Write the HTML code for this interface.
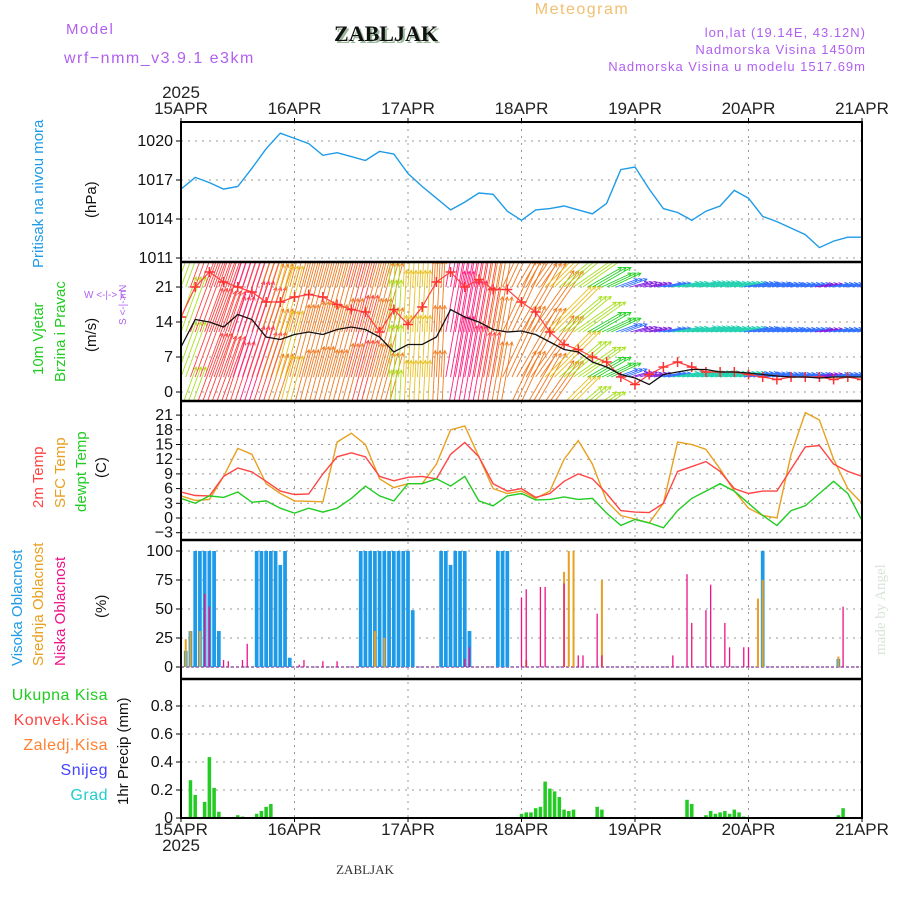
<!DOCTYPE html>
<html><head><meta charset="utf-8"><style>
html,body{margin:0;padding:0;background:#fff;}
svg{display:block;font-family:"Liberation Sans",sans-serif;}
</style></head><body>
<svg id="c" width="900" height="900" viewBox="0 0 900 900" xmlns="http://www.w3.org/2000/svg">
<g>
<text x="66" y="34" font-size="15" fill="#b060f0" letter-spacing="1.5">Model</text>
<text x="64" y="63" font-size="16" fill="#b060f0" letter-spacing="1.5">wrf−nmm_v3.9.1 e3km</text>
<text x="388" y="43" font-size="22" font-weight="bold" font-family="Liberation Serif,serif" fill="#9ab89a" text-anchor="middle">ZABLJAK</text>
<text x="386" y="41" font-size="22" font-weight="bold" font-family="Liberation Serif,serif" fill="#111" text-anchor="middle">ZABLJAK</text>
<text x="582" y="14" font-size="16" fill="#f0c070" text-anchor="middle" letter-spacing="1.5">Meteogram</text>
<text x="866" y="37" font-size="13" fill="#b060f0" text-anchor="end" letter-spacing="1">lon,lat (19.14E, 43.12N)</text>
<text x="866" y="54" font-size="13" fill="#b060f0" text-anchor="end" letter-spacing="1">Nadmorska Visina 1450m</text>
<text x="866" y="71" font-size="13" fill="#b060f0" text-anchor="end" letter-spacing="1">Nadmorska Visina u modelu 1517.69m</text>
<text x="181" y="98" font-size="17" fill="#222" text-anchor="middle">2025</text>
<text x="181" y="851" font-size="17" fill="#222" text-anchor="middle">2025</text>
<text x="365" y="874" font-size="13" font-family="Liberation Serif,serif" fill="#333" text-anchor="middle">ZABLJAK</text>
<text transform="translate(885,655) rotate(-90)" font-size="15" font-family="Liberation Serif,serif" fill="#d8e4d8">made by Angel</text>
</g>
<g>
<text transform="translate(43,268) rotate(-90)" font-size="15" fill="#1e9be8">Pritisak na nivou mora</text>
<text transform="translate(96,218) rotate(-90)" font-size="15" fill="#111">(hPa)</text>
<text transform="translate(43,375) rotate(-90)" font-size="15" fill="#22cc22">10m Vjetar</text>
<text transform="translate(65,382) rotate(-90)" font-size="15" fill="#22cc22">Brzina i Pravac</text>
<text transform="translate(96,352) rotate(-90)" font-size="15" fill="#111">(m/s)</text>
<text x="84" y="298" font-size="10" fill="#b060f0">W  &lt;-|-&gt;  E</text>
<text transform="translate(126,325) rotate(-90)" font-size="10" fill="#b060f0">S &lt;-|-&gt; N</text>
<text transform="translate(43,508) rotate(-90)" font-size="15" fill="#ff4444">2m Temp</text>
<text transform="translate(65,508) rotate(-90)" font-size="15" fill="#e8a020">SFC Temp</text>
<text transform="translate(86,512) rotate(-90)" font-size="15" fill="#22cc22">dewpt Temp</text>
<text transform="translate(106,478) rotate(-90)" font-size="15" fill="#111">(C)</text>
<text transform="translate(22,666) rotate(-90)" font-size="15" fill="#1e9be8">Visoka Oblacnost</text>
<text transform="translate(43,666) rotate(-90)" font-size="15" fill="#e8a020">Srednja Oblacnost</text>
<text transform="translate(65,666) rotate(-90)" font-size="15" fill="#ee1188">Niska Oblacnost</text>
<text transform="translate(106,618) rotate(-90)" font-size="15" fill="#111">(%)</text>
<text x="108" y="700" font-size="16" fill="#22cc22" text-anchor="end" letter-spacing="0.5">Ukupna  Kisa</text>
<text x="108" y="725" font-size="16" fill="#ff4444" text-anchor="end" letter-spacing="0.5">Konvek.Kisa</text>
<text x="108" y="750" font-size="16" fill="#ff8030" text-anchor="end" letter-spacing="0.5">Zaledj.Kisa</text>
<text x="108" y="775" font-size="16" fill="#4444ff" text-anchor="end" letter-spacing="0.5">Snijeg</text>
<text x="108" y="800" font-size="16" fill="#22cccc" text-anchor="end" letter-spacing="0.5">Grad</text>
<text transform="translate(128,805) rotate(-90)" font-size="15" fill="#111">1hr Precip (mm)</text>
</g>
<g id="grid"></g>
<g id="marks"></g>
<g id="frame"></g>
</svg>
<script>
const dayLabels=["15APR","16APR","17APR","18APR","19APR","20APR","21APR"];
const pressure=[1016.3,1017.2,1016.8,1016.3,1016.5,1017.9,1019.4,1020.6,1020.2,1019.8,1018.9,1019.1,1018.8,1018.5,1019.2,1019.0,1017.5,1016.5,1015.6,1014.7,1015.3,1016.0,1015.9,1014.6,1013.9,1014.7,1014.8,1015.0,1014.7,1014.4,1015.2,1017.8,1018.0,1016.3,1014.8,1014.5,1013.9,1014.6,1015.0,1016.2,1015.6,1014.2,1013.8,1013.3,1012.8,1011.8,1012.3,1012.6,1012.6];
const windSpeed=[9,14.5,14,13,15.5,14.5,11,10.5,11.5,12,11.5,12.5,13,12.5,11,8,9.5,9.5,11,16.5,15,14,12.5,12,12.2,11.5,10,8.5,8,6,5,3.5,2.8,1.5,3.5,4,4.5,4.5,4,4,3.8,3.5,3.2,3,3,2.8,3,3,3];
const windGust=[15,21,24,22,21,20,18,18,19,19.5,19,17.5,16.5,16,12,16.5,13.5,17,22,24,21,22.5,20.5,20.5,18,16,12,9.5,8.5,7,6,3,1.5,3.5,5,6,5,4,4,4,3.5,3,2.5,3,3,3,2.5,3,2.5];
const windDir=[20,20,20,18,18,18,18,15,15,15,15,15,15,15,15,3,3,3,3,10,10,10,10,25,30,35,45,50,55,60,65,70,75,78,80,80,80,80,80,80,80,80,80,80,80,80,80,80,80];
const temp2m=[5.3,4.6,4.5,8.5,10.2,9.4,7.5,5.5,4.8,4.9,9,12.5,13.3,12.5,8.5,7.6,8.3,8.5,8,13,15.4,12.5,7,5.5,6,4.2,5,7.5,9,8,5,1.5,1.2,1.1,3,9.5,10.5,11.5,9.5,6,5,5.5,5.5,10,14.5,14.8,11,9.5,8.5];
const tempSfc=[4.5,3.6,3.8,8.5,14.2,13,7,5,3.5,3.4,3.3,15.5,17.3,15,8,6.2,7,7,11,18,18.8,12.5,6,5,5.5,4,5.5,12,15.8,11,3.5,0.5,-0.2,-1,3,15.5,15,14,10,5.5,2,0.5,0,13,21.5,20,12,6,3];
const dewpt=[4,3,4.5,4.2,5.3,3.2,3.5,2,1,2,1.2,2,4,6.5,4.5,3.5,7,7,8,6.5,8.5,3.5,2.5,4.5,5,3.7,3.8,4.3,3.8,4,1,-1.5,-0.3,-1,-2,1.5,4,5.5,7,5.5,3,0.5,-1.5,1.5,2.5,5,7.5,5,-0.5];
const highHours=[1,2,3,4,5,6,7,8,16,17,18,19,20,21,22,23,38,39,40,41,42,43,44,45,46,47,48,49,55,56,57,58,59,60,61,67,68,69,123,139];
const highVals=[14,31,100,100,100,100,100,31,100,100,100,100,100,88,100,8,100,100,100,100,100,100,100,100,100,100,100,49,100,100,88,100,100,100,31,100,100,100,100,7];
const midHours=[1,2,4,41,43,73,81,82,83,89,122,123,139];
const midVals=[24,31,31,31,25,6,82,100,100,75,59,75,9];
const lowHours=[5,6,9,10,13,14,25,26,30,33,60,61,72,73,76,77,81,84,85,88,89,104,107,108,111,112,115,116,119,120,140];
const lowVals=[63,52,6,5,6,20,2,6,5,5,7,17,60,67,69,69,72,10,10,46,10,10,80,38,49,71,38,17,17,17,52];
const precipHours=[2,3,5,6,7,8,12,13,16,17,18,19,72,73,74,75,76,77,78,79,80,81,82,83,88,89,107,108,111,112,113,114,115,116,117,118,119,139,140];
const precipVals=[0.27,0.165,0.115,0.435,0.215,0.045,0.02,0.01,0.03,0.05,0.08,0.1,0.03,0.04,0.04,0.07,0.08,0.26,0.21,0.19,0.15,0.06,0.05,0.06,0.08,0.06,0.13,0.1,0.02,0.05,0.03,0.04,0.05,0.03,0.06,0.04,0.01,0.02,0.07];

const NS="http://www.w3.org/2000/svg";
const X0=181,X1=862,HOURS=144;
const xH=h=>X0+h*(X1-X0)/HOURS;
const xI=i=>xH(i*3);
const yP=v=>258-(v-1011)*13;
const yW=v=>392-v*5.0;
const yT=v=>518-v*4.9;
const yC=v=>667-v*1.16;
const yR=v=>818-v*140;
const grid=document.getElementById('grid'),marks=document.getElementById('marks'),frame=document.getElementById('frame');
function mk(tag,attrs,parent){const e=document.createElementNS(NS,tag);for(const k in attrs)e.setAttribute(k,attrs[k]);parent.appendChild(e);return e;}

const defs=mk('defs',{},document.getElementById('c'));
const panels=[[122,262],[262,401],[401,540],[540,679],[679,818]];
panels.forEach((p,i)=>{const cp=mk('clipPath',{id:'cp'+i},defs);mk('rect',{x:X0,y:p[0],width:X1-X0,height:p[1]-p[0]},cp);});

dayLabels.forEach((d,i)=>{
  const x=xH(i*24);
  const g=mk('line',{x1:x,x2:x,y1:122,y2:818,stroke:'#999','stroke-dasharray':'2,5','stroke-width':1},grid);
  
  
  const t=mk('text',{x:x,y:114,'font-size':17,fill:'#222','text-anchor':'middle'},grid);t.textContent=d;
  
  
  const b=mk('text',{x:x,y:835,'font-size':17,fill:'#222','text-anchor':'middle'},grid);b.textContent=d;
  
  
  mk('line',{x1:x,x2:x,y1:118,y2:122,stroke:'#000'},grid);
  mk('line',{x1:x,x2:x,y1:818,y2:822,stroke:'#000'},grid);
});
const pTicks=[1011,1014,1017,1020],wTicks=[0,7,14,21],tTicks=[-3,0,3,6,9,12,15,18,21],cTicks=[0,25,50,75,100],rTicks=[0,0.2,0.4,0.6,0.8];
function hTicks(ticks,yf,fmt,name){ticks.forEach(v=>{const y=yf(v);
  const l=mk('line',{x1:X0,x2:X1,y1:y,y2:y,stroke:'#999','stroke-dasharray':'2,5'},grid);
  
  
  mk('line',{x1:X0-5,x2:X0,y1:y,y2:y,stroke:'#000'},grid);
  const t=mk('text',{x:X0-8,y:y+5,'font-size':16,fill:'#111','text-anchor':'end'},grid);t.textContent=fmt(v);
  
  
});}
hTicks(pTicks,yP,v=>String(v),'pressure');
hTicks(wTicks,yW,v=>String(v),'wind');
hTicks(tTicks,yT,v=>v<0?'−'+(-v):String(v),'temp');
hTicks(cTicks,yC,v=>String(v),'cloud');
hTicks(rTicks,yR,v=>v===0?'0':v.toFixed(1),'precip');

function line(vals,yf,color,name,clip,w){
  const d=vals.map((v,i)=>(i?'L':'M')+xI(i).toFixed(1)+','+yf(v).toFixed(1)).join('');
  const p=mk('path',{d:d,fill:'none',stroke:color,'stroke-width':w||1.4,'clip-path':'url(#cp'+clip+')'},marks);
  
  
}
line(pressure,yP,'#1e9be8','pressure-line',0);

function wcol(s){return s>=15?'#ff2080':s>=13?'#ff4040':s>=11?'#f07a20':s>=9.5?'#e8c020':s>=7?'#a8e020':s>=5?'#20d020':s>=4?'#20d0b0':s>=3?'#3070ff':'#8020e0';}
const wg=mk('g',{'clip-path':'url(#cp1)'},marks);


const bases=[-6,3,12,21];
windSpeed.forEach((s,i)=>{
  const a=windDir[i]*Math.PI/180,L=Math.max(s*6.5,18),c=wcol(s);
  [-4.73,0,4.73].forEach(off=>{
    bases.forEach(b=>{
      const x1=xI(i)+off,y1=yW(b),x2=x1+L*Math.sin(a),y2=y1-L*Math.cos(a);
      const ar=mk('line',{x1:x1,y1:y1,x2:x2,y2:y2,stroke:c,'stroke-width':0.9},wg);
      
      
      const h1=a+Math.PI-0.5,h2=a+Math.PI+0.5;
      mk('path',{d:`M${x2+4*Math.sin(h1)},${y2-4*Math.cos(h1)}L${x2},${y2}L${x2+4*Math.sin(h2)},${y2-4*Math.cos(h2)}`,fill:'none',stroke:c,'stroke-width':0.9},wg);
    });
  });
});
line(windGust,yW,'#ff4040','wind-gust-line',1,1.2);
windGust.forEach((v,i)=>{const x=xI(i),y=yW(v);
  const p=mk('path',{d:`M${x-5},${y}h10M${x},${y-5}v10`,stroke:'#ff3030','stroke-width':1.5,'clip-path':'url(#cp1)'},marks);
  
  
});
line(windSpeed,yW,'#111','wind-speed-line',1,1.3);

line(tempSfc,yT,'#e8a020','sfc-temp-line',2);
line(temp2m,yT,'#ff4444','temp-2m-line',2);
line(dewpt,yT,'#22cc22','dewpoint-line',2);

const bw=(X1-X0)/HOURS;
function bars(hours,vals,yf,color,w,name,clip){hours.forEach((h,i)=>{
  const x=xH(h)-w/2,y=yf(vals[i]);
  const r=mk('rect',{x:x,y:y,width:w,height:yf(0)-y,fill:color,'clip-path':'url(#cp'+clip+')'},marks);
  
  
});}
mk('line',{x1:X0,x2:X1,y1:yC(0),y2:yC(0),stroke:'#b080c0','stroke-width':2,'stroke-dasharray':'3,2'},marks);
bars(highHours,highVals,yC,'#1e9be8',bw-1,'high-cloud-bar',3);
bars(midHours,midVals,yC,'#e8a020',2,'mid-cloud-bar',3);
bars(lowHours,lowVals,yC,'#ee1188',1.3,'low-cloud-bar',3);
bars(precipHours,precipVals,yR,'#22cc22',bw-1.2,'precip-bar',4);
mk('line',{x1:X0,x2:X1,y1:yR(0),y2:yR(0),stroke:'#000','stroke-width':2,'stroke-dasharray':'4,2'},marks);

const fr=mk('rect',{x:X0,y:122,width:X1-X0,height:696,fill:'none',stroke:'#000','stroke-width':2},frame);


[262,401,540,679].forEach(y=>{
  const s=mk('line',{x1:X0,x2:X1,y1:y,y2:y,stroke:'#000','stroke-width':2.5},frame);
  
  
});
</script>
</body></html>
